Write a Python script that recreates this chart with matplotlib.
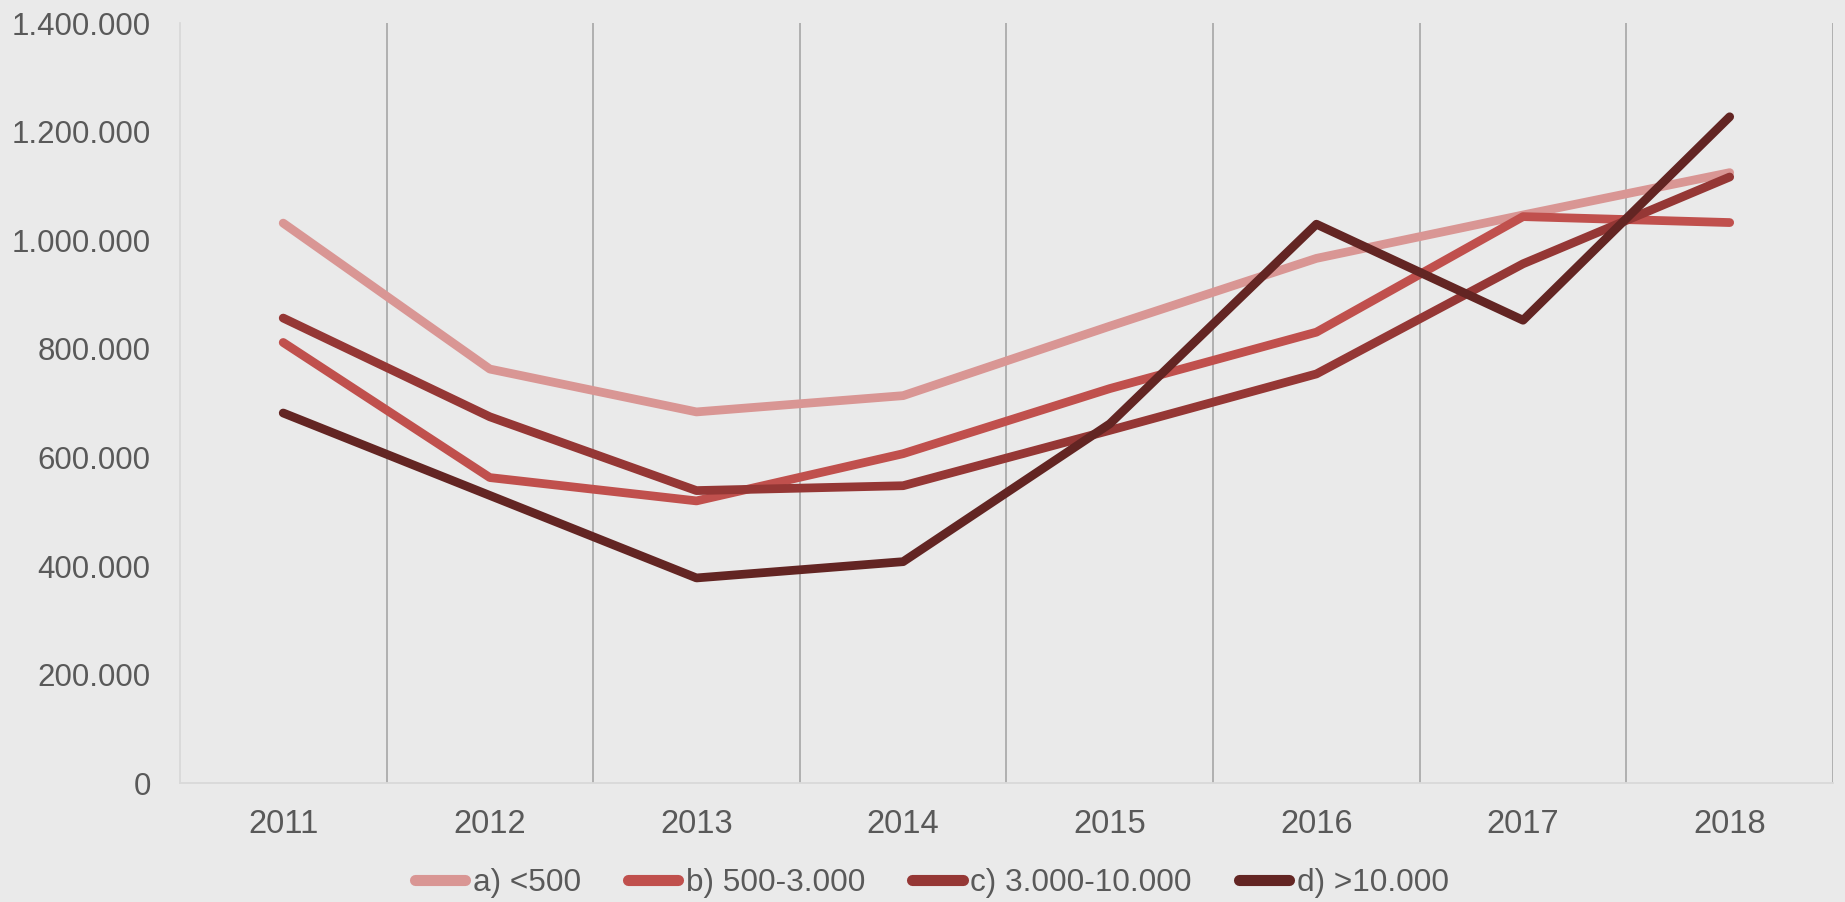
import matplotlib
matplotlib.use("Agg")
import matplotlib.pyplot as plt
from matplotlib.ticker import FuncFormatter, FixedLocator

years = ["2011", "2012", "2013", "2014", "2015", "2016", "2017", "2018"]
series_a = [1032000, 763000, 684000, 714000, 842000, 967000, 1047000, 1125000]
series_b = [812000, 563000, 520000, 607000, 727000, 831000, 1044000, 1033000]
series_c = [857000, 675000, 539000, 548000, 650000, 754000, 957000, 1117000]
series_d = [682000, 530000, 378000, 408000, 662000, 1030000, 853000, 1228000]
labels = ["a) <500", "b) 500-3.000", "c) 3.000-10.000", "d) >10.000"]
colors = ["#d99694", "#c0504d", "#953735", "#632523"]

bg = "#eaeaea"
txt = "#595959"
plt.rcParams['font.family'] = ['Liberation Sans', 'DejaVu Sans']

fig = plt.figure(figsize=(18.45, 9.02), dpi=100, facecolor=bg)
ax = fig.add_axes([0.0975, 0.1319, 0.896, 0.8421], facecolor=bg)

x = list(range(len(years)))
for vals, lab, col in zip([series_a, series_b, series_c, series_d], labels, colors):
    ax.plot(x, vals, color=col, lw=6.3, label=lab,
            solid_capstyle='round', solid_joinstyle='round')

ax.set_xlim(-0.5, len(years) - 0.5)
ax.set_ylim(0, 1400000)
ax.set_yticks(range(0, 1400001, 200000))
ax.yaxis.set_major_formatter(FuncFormatter(lambda v, p: f"{int(v):,}".replace(",", ".")))
ax.set_xticks(x)
ax.set_xticklabels(years)
ax.xaxis.set_minor_locator(FixedLocator([i + 0.5 for i in range(len(years))]))
ax.grid(which='minor', axis='x', color='#a6a6a6', lw=1.2)
ax.grid(which='major', visible=False)
ax.tick_params(axis='both', which='both', length=0, colors=txt)
ax.tick_params(axis='y', pad=21, labelsize=22.5)
ax.tick_params(axis='x', pad=19, labelsize=23.5)

for s in ['top', 'right']:
    ax.spines[s].set_visible(False)
for s in ['left', 'bottom']:
    ax.spines[s].set_color('#d9d9d9')
    ax.spines[s].set_linewidth(1.3)

leg = fig.legend(loc='center', bbox_to_anchor=(0.505, 19 / 902), ncol=4, frameon=False,
                 fontsize=22.7, handlelength=1.59, handletextpad=0.24, columnspacing=1.5,
                 labelcolor=txt, borderpad=0.0)
for h in leg.get_lines():
    h.set_linewidth(8)
    h.set_solid_capstyle('round')

fig.savefig("out.png", dpi=100, facecolor=bg)
